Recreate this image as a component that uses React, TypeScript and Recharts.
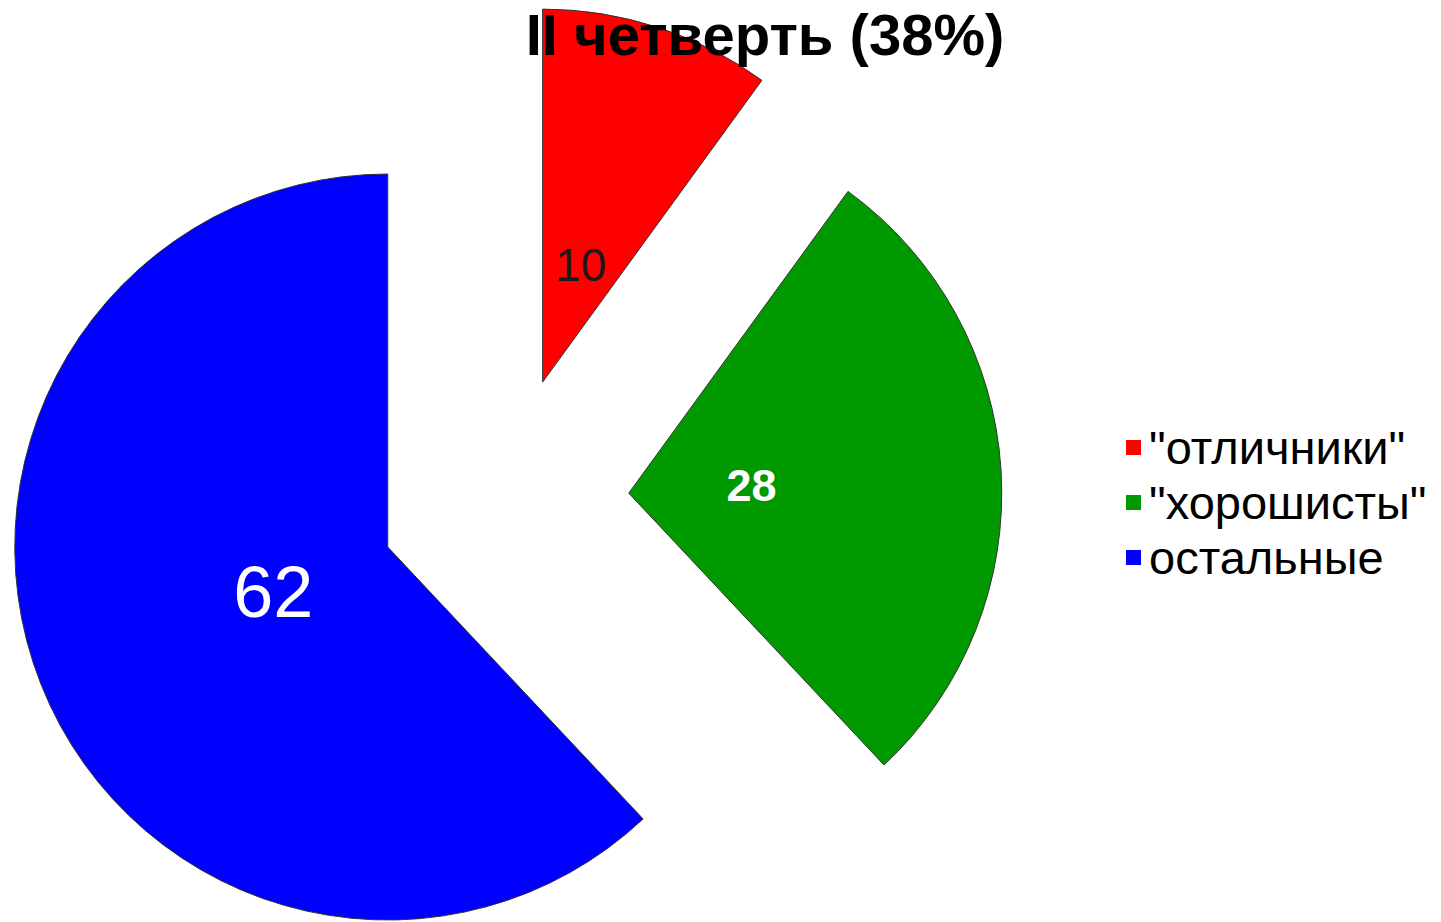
import { PieChart, Pie, Cell, Legend } from "recharts";

const categories = ['"отличники"', '"хорошисты"', "остальные"];
const counts = [10, 28, 62];
const title = "II четверть (38%)";

const COLORS = ["#ff0000", "#009900", "#0000ff"];
const LABEL_COLORS = ["#1a1a1a", "#ffffff", "#ffffff"];
const LABEL_SIZES = [46, 45, 72];
const LABEL_WEIGHTS = [400, 700, 400];

const FONT = '"Liberation Sans", Arial, sans-serif';
const RAD = Math.PI / 180;

// pie geometry (every slice is pulled out of the same centre)
const CENTER_X = 504;
const CENTER_Y = 501;
const RADIUS = 373;
const EXPLODE = 125;

const data = categories.map((name, i) => ({ name, value: counts[i] }));

// recharts angles: counter-clockwise from 3 o'clock, slices go clockwise from 12
const total = counts.reduce((a, b) => a + b, 0);
const midAngles = counts.map((v, i) => {
  const before = counts.slice(0, i).reduce((a, b) => a + b, 0);
  return 90 - ((before + v / 2) / total) * 360;
});

const renderLabel = (k: number) => (props: any) => {
  if (props.index !== k) return null;
  const r = props.outerRadius * 0.33;
  const x = props.cx + r * Math.cos(-props.midAngle * RAD);
  const y = props.cy + r * Math.sin(-props.midAngle * RAD);
  return (
    <text
      x={x}
      y={y}
      textAnchor="middle"
      dominantBaseline="central"
      fill={LABEL_COLORS[k]}
      fontSize={LABEL_SIZES[k]}
      fontWeight={LABEL_WEIGHTS[k]}
      fontFamily={FONT}
    >
      {props.value}
    </text>
  );
};

const renderLegend = () => (
  <div style={{ fontFamily: FONT, fontSize: 47, color: "#000" }}>
    {categories.map((name, i) => (
      <div
        key={name}
        style={{ display: "flex", alignItems: "center", height: 55, whiteSpace: "nowrap" }}
      >
        <span
          style={{
            width: 15,
            height: 15,
            background: COLORS[i],
            display: "inline-block",
            marginRight: 8,
          }}
        />
        <span>{name}</span>
      </div>
    ))}
  </div>
);

export default function App() {
  return (
    <div style={{ position: "absolute", left: 0, top: 0, width: 1441, height: 922, background: "#fff" }}>
      <PieChart width={1441} height={922} margin={{ top: 0, right: 0, bottom: 0, left: 0 }}>
        {data.map((_, k) => (
          <Pie
            key={k}
            data={data}
            dataKey="value"
            nameKey="name"
            cx={CENTER_X + EXPLODE * Math.cos(midAngles[k] * RAD)}
            cy={CENTER_Y - EXPLODE * Math.sin(midAngles[k] * RAD)}
            outerRadius={RADIUS}
            startAngle={90}
            endAngle={-270}
            labelLine={false}
            label={renderLabel(k)}
            isAnimationActive={false}
          >
            {data.map((d, j) => (
              <Cell
                key={d.name}
                fill={j === k ? COLORS[j] : "none"}
                stroke={j === k ? "#333" : "none"}
                strokeWidth={1}
              />
            ))}
          </Pie>
        ))}
        <Legend
          layout="vertical"
          align="right"
          verticalAlign="top"
          content={renderLegend}
          wrapperStyle={{ left: 1126, top: 420, right: "auto", width: 315 }}
        />
      </PieChart>
      <div
        style={{
          position: "absolute",
          left: 0,
          top: 6,
          width: 1530,
          textAlign: "center",
          fontFamily: FONT,
          fontWeight: 700,
          fontSize: 58,
          lineHeight: "58px",
          color: "#000",
          pointerEvents: "none",
        }}
      >
        {title}
      </div>
    </div>
  );
}
